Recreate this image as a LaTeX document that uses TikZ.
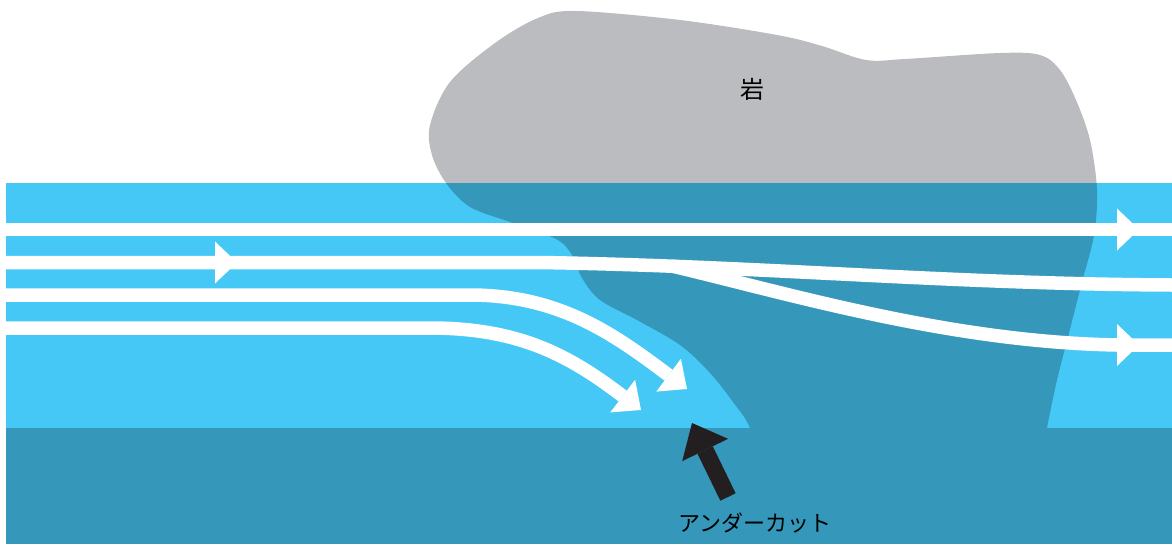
\documentclass[tikz,border=0pt]{standalone}
\usepackage{fontspec}
\newfontfamily\jpfont{Noto Sans CJK JP}
\usetikzlibrary{arrows.meta}
\definecolor{water}{RGB}{70,200,246}
\definecolor{deep}{RGB}{53,151,186}
\definecolor{rockgray}{RGB}{187,188,192}
\definecolor{pointer}{RGB}{35,31,32}
\begin{document}
\begin{tikzpicture}[x=1pt,y=-1pt,
  flow/.style={draw=white,line width=13.5pt},
  flowtip/.style={-{Triangle[length=23pt,width=41pt,line width=0pt]}},
  midhead/.style={fill=white},
  label/.style={font=\jpfont\fontsize{22}{26}\selectfont,inner sep=0pt}]
\useasboundingbox (0,0) rectangle (1172,544);

% open water band
\fill[water] (6,183) rectangle (1172,428);

% the rock: grey above the waterline, dark where it sits in the water
\begin{scope}
  \clip plot[smooth cycle,tension=0.55] coordinates {
    (576,11) (680,20) (777,35) (822,46) (866,60) (905,59) (1000,53)
    (1040,55) (1060,70) (1076,100) (1090,140) (1097,190) (1094,235)
    (1082,282) (1068,337) (1057,380) (1047,428) (1040,470) (760,470)
    (750,428) (733,402) (710,373) (680,345) (637,320) (600,300)
    (582,278) (572,255) (556,239) (510,222) (470,207) (446,183)
    (432,155) (430,125) (450,82) (495,43) (538,18)};
  \fill[rockgray] (0,0) rectangle (1172,183);
  \fill[deep] (6,183) rectangle (1172,544);
\end{scope}

% river bed
\fill[deep] (6,428) rectangle (1172,544);

% flow lines
\draw[flow] (6,229.5) -- (1172,229.5);
\fill[midhead] (1117,208.5) -- (1139,229.5) -- (1117,250.5) -- cycle;

\draw[flow] (6,262.5) -- (540,262.5) .. controls (760,266) and (950,284) .. (1172,285);
\fill[midhead] (215,241.5) -- (237,262.5) -- (215,283.5) -- cycle;

\draw[flow] (672,266) .. controls (790,294) and (950,342) .. (1117,345) -- (1172,345);
\fill[midhead] (1117,324) -- (1139,345) -- (1117,366) -- cycle;

\draw[flow,flowtip] (6,295) -- (470,295) .. controls (560,295) and (615,335) .. (687,389);
\draw[flow,flowtip] (6,328) -- (430,328) .. controls (520,328) and (570,356) .. (641,410);

% labels
\node[label,font=\jpfont\fontsize{24}{28}\selectfont] (rock) at (752,89) {岩};
\node[label] (cut) at (755,523) {アンダーカット};

% pointer to the undercut
\coordinate (tail) at (728,497);
\coordinate (undercut) at (692,423);
\draw[pointer,line width=17pt,-{Triangle[length=30pt,width=51pt,line width=0pt]}] (tail) -- (undercut);
\end{tikzpicture}
\end{document}
